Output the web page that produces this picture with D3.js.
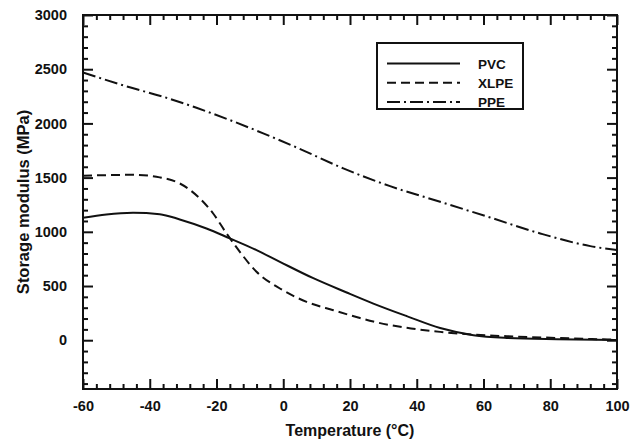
<!DOCTYPE html>
<html><head><meta charset="utf-8">
<script src="https://cdn.jsdelivr.net/npm/d3@7/dist/d3.min.js"></script>
<style>body{margin:0;background:#fff}svg{display:block}</style>
</head><body>
<svg id="chart" width="640" height="444"></svg>
<script>
const seriesNames = ["PVC", "XLPE", "PPE"];
const pvcT = [-60,-53,-45,-37,-31,-23,-16,-8,-1,9,19,27,37,47,57,67,82,100];
const pvcV = [1129,1160,1175,1163,1114,1031,939,831,723,572,440,338,222,112,46,21,9,3];
const xlpeT = [-60,-45,-37,-31,-25,-21,-17,-13,-8,-1,7,15,23,27,37,47,57,67,82,100];
const xlpeV = [1517,1526,1502,1446,1308,1169,985,815,631,477,354,277,205,172,114,77,52,37,21,5];
const ppeT = [-60,-46,-36,-26,-16,-6,4,18,32,47,62,77,92,100];
const ppeV = [2470,2333,2246,2144,2031,1908,1778,1585,1421,1277,1132,985,868,832];
const xMajorTicks = [-60,-40,-20,0,20,40,60,80,100];
const yMajorTicks = [0,500,1000,1500,2000,2500,3000];
const xTitle = "Temperature (°C)";
const yTitle = "Storage modulus (MPa)";

const svg = d3.select("#chart");
const L = 83, R = 617, T = 15, B = 389;
const x = d3.scaleLinear().domain([-60,100]).range([L,R]);
const y = d3.scaleLinear().domain([-450,3000]).range([B,T]);
const font = "'Liberation Sans', Arial, Helvetica, sans-serif";
const fmt = d => String(d);

const xMinor = d3.range(-60,101,4).filter(v => !xMajorTicks.includes(v));
const yMinor = d3.range(-400,3001,100).filter(v => !yMajorTicks.includes(v));

const gB = svg.append("g").attr("transform",`translate(0,${B})`);
gB.call(d3.axisBottom(x).tickValues(xMajorTicks).tickSize(-10).tickPadding(12).tickFormat(fmt));
gB.append("g").call(d3.axisBottom(x).tickValues(xMinor).tickSize(-5).tickFormat(""));
const gT = svg.append("g").attr("transform",`translate(0,${T})`);
gT.call(d3.axisTop(x).tickValues(xMajorTicks).tickSize(-10).tickFormat(""));
gT.append("g").call(d3.axisTop(x).tickValues(xMinor).tickSize(-5).tickFormat(""));
const gL = svg.append("g").attr("transform",`translate(${L},0)`);
gL.call(d3.axisLeft(y).tickValues(yMajorTicks).tickSize(-10).tickPadding(16).tickFormat(fmt));
gL.append("g").call(d3.axisLeft(y).tickValues(yMinor).tickSize(-5).tickFormat(""));
const gR = svg.append("g").attr("transform",`translate(${R},0)`);
gR.call(d3.axisRight(y).tickValues(yMajorTicks).tickSize(-10).tickFormat(""));
gR.append("g").call(d3.axisRight(y).tickValues(yMinor).tickSize(-5).tickFormat(""));

svg.selectAll(".domain").remove();
svg.selectAll(".tick line").attr("stroke","#111").attr("stroke-width",2);
svg.selectAll(".tick text").attr("font-family",font).attr("font-weight","bold").attr("font-size","14.5px").attr("fill","#111");

svg.append("rect").attr("x",L).attr("y",T).attr("width",R-L).attr("height",B-T)
  .attr("fill","none").attr("stroke","#111").attr("stroke-width",2);

const line = d3.line().x(d=>x(d[0])).y(d=>y(d[1])).curve(d3.curveMonotoneX);
const series = [
  {name:seriesNames[0], data:d3.zip(pvcT,pvcV), dash:null},
  {name:seriesNames[1], data:d3.zip(xlpeT,xlpeV), dash:"9,5"},
  {name:seriesNames[2], data:d3.zip(ppeT,ppeV), dash:"13,4,2,4"}
];
svg.append("g").selectAll("path").data(series).join("path")
  .attr("d",d=>line(d.data)).attr("fill","none").attr("stroke","#111")
  .attr("stroke-width",2).attr("stroke-dasharray",d=>d.dash);

const lg = svg.append("g");
lg.append("rect").attr("x",377).attr("y",43).attr("width",146).attr("height",66)
  .attr("fill","#fff").attr("stroke","#111").attr("stroke-width",2);
series.forEach((s,i)=>{
  const yy = 63.5 + i*19.2;
  lg.append("line").attr("x1",387).attr("x2",460).attr("y1",yy).attr("y2",yy)
    .attr("stroke","#111").attr("stroke-width",2).attr("stroke-dasharray",s.dash);
  lg.append("text").attr("x",478).attr("y",yy+5).text(s.name)
    .attr("font-family",font).attr("font-weight","bold").attr("font-size","13.5px").attr("fill","#111");
});

svg.append("text").attr("x",(L+R)/2).attr("y",436).attr("text-anchor","middle").text(xTitle)
  .attr("font-family",font).attr("font-weight","bold").attr("font-size","16px").attr("fill","#111");
svg.append("text").attr("transform",`translate(29,${(T+B)/2}) rotate(-90)`).attr("text-anchor","middle").text(yTitle)
  .attr("font-family",font).attr("font-weight","bold").attr("font-size","16.5px").attr("fill","#111");
</script>
</body></html>
